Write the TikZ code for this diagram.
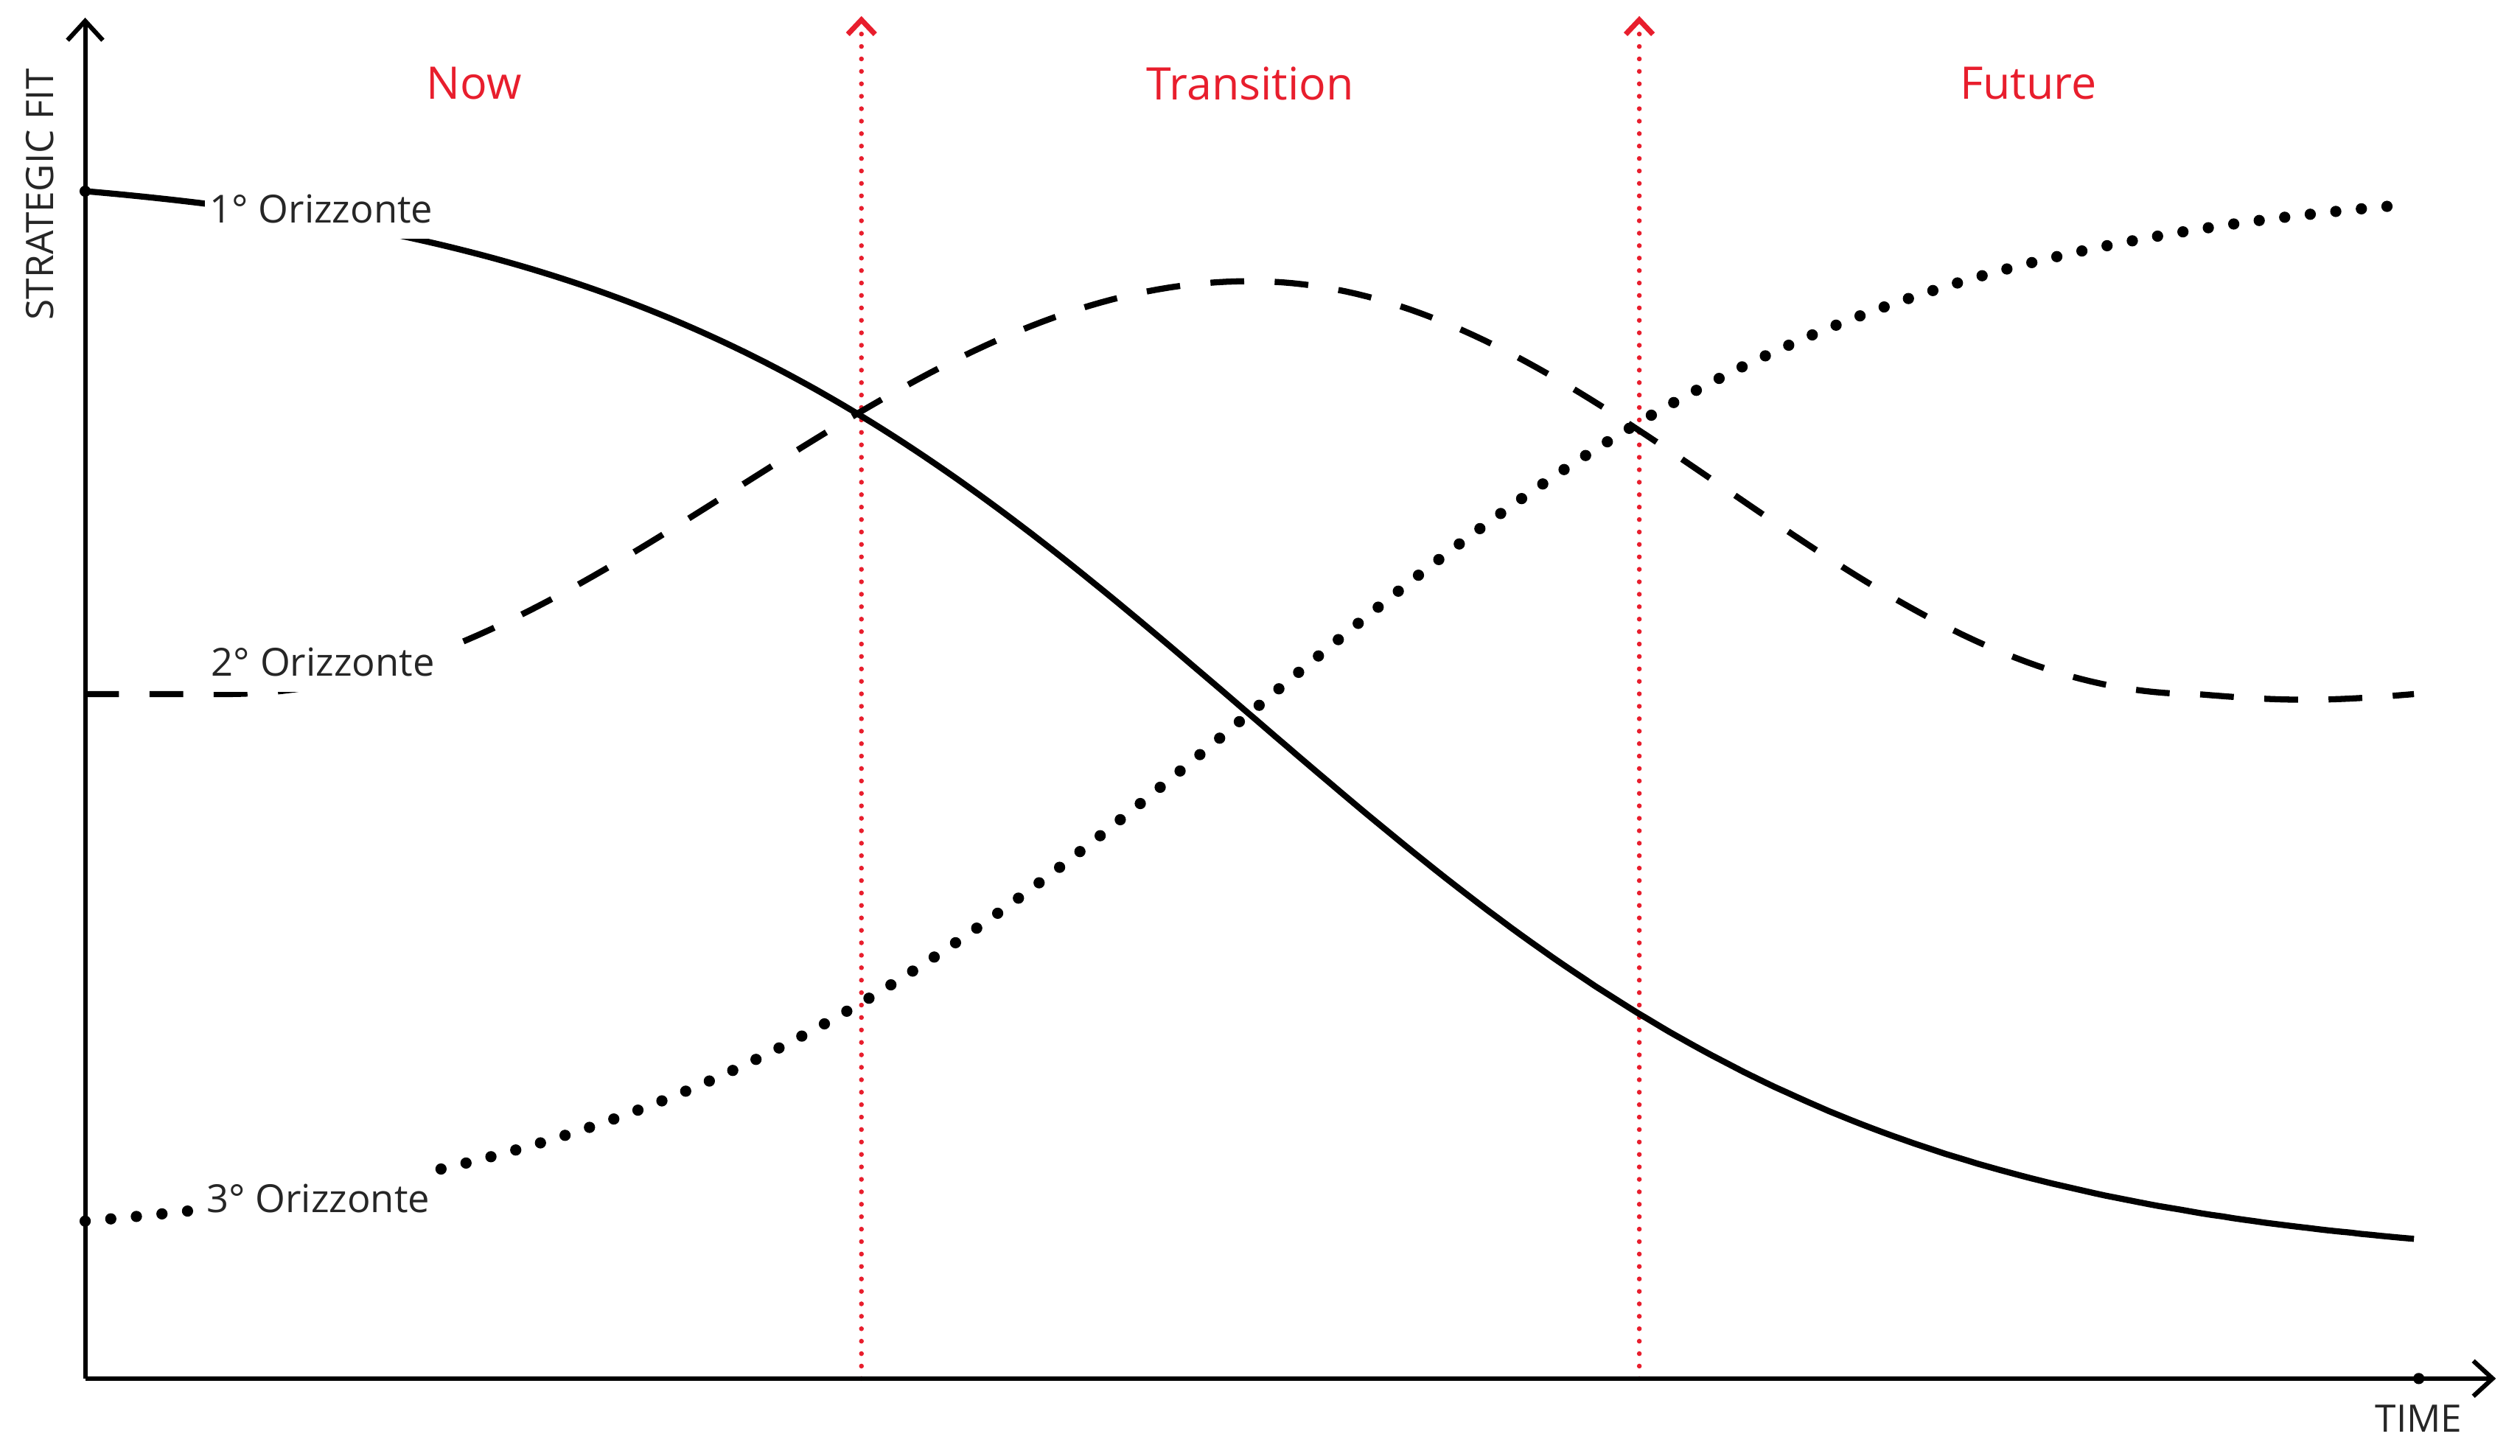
\documentclass[tikz,border=0pt]{standalone}
\usepackage{fontspec}
\setmainfont{Open Sans}
\usetikzlibrary{arrows.meta}
\definecolor{guidered}{RGB}{232,30,45}
\definecolor{inkgray}{RGB}{38,38,38}
\begin{document}
\begin{tikzpicture}[x=0.02cm,y=-0.02cm,
  axisline/.style={line width=0.056cm,draw=black,
    -{Straight Barb[length=0.24cm,width=0.44cm,line width=0.056cm]}},
  solidcurve/.style={line width=0.076cm,draw=black},
  dashcurve/.style={line width=0.076cm,draw=black,dash pattern=on 0.42cm off 0.38cm},
  dotcurve/.style={line width=0.14cm,draw=black,line cap=round,dash pattern=on 0pt off 0.32cm},
  guide/.style={draw=guidered,line width=0.06cm,line cap=round,dash pattern=on 0pt off 0.155cm,
    -{Straight Barb[length=0.18cm,width=0.34cm,line width=0.065cm]}},
  lbl/.style={font=\fontsize{13.7}{16}\selectfont,text=inkgray,fill=white,inner xsep=0.06cm,inner ysep=0.19cm},
  phase/.style={font=\fontsize{15.9}{19}\selectfont,text=guidered,inner sep=1pt},
  axislbl/.style={font=\fontsize{13.4}{16}\selectfont,text=inkgray,inner sep=1pt},
  axisdot/.style={fill=black,circle,inner sep=0pt,minimum size=0.14cm}
]
\useasboundingbox (0,0) rectangle (1568,906);

% coordinates
\coordinate (origin) at (53,858);
\coordinate (ytip) at (53,11);
\coordinate (xtip) at (1553,858);
\coordinate (g1b) at (536,858);
\coordinate (g1t) at (536,10);
\coordinate (g2b) at (1020,858);
\coordinate (g2t) at (1020,10);

% red guide lines
\draw[guide] (g1b) -- (g1t);
\draw[guide] (g2b) -- (g2t);

% curves
\draw[solidcurve] plot[domain=53:1502,samples=220]
  (\x,{119+652*(1/(1+exp(-0.005*(\x-778)))-0.0259)/0.948});
\draw[dashcurve] (53,432) -- (140,432)
  -- plot[domain=140:778,samples=90] (\x,{432-128.5*(1+cos(0.282132*(\x-778)))})
  -- plot[domain=778:1367,samples=90] (\x,{432-128.5*(1+cos(0.305603*(\x-778)))})
  -- plot[domain=1367:1502,samples=30] (\x,{432+3.5*sin(1.333333*(\x-1367))});
\draw[dotcurve] plot[domain=53:1495,samples=220]
  (\x,{760-633*(1/(1+exp(-0.005*(\x-778)))-0.0259)/0.948});

% axes
\draw[axisline] (origin) -- (ytip);
\draw[axisline] (origin) -- (xtip);
\node[axisdot] (ydot) at (53,119) {};
\node[axisdot] (xdot) at (1505,858) {};

% labels
\node[lbl] (h1) at (200,130) {1° Orizzonte};
\node[lbl] (h2) at (201,412) {2° Orizzonte};
\node[lbl] (h3) at (198,746) {3° Orizzonte};

\node[phase] (now) at (295,52) {Now};
\node[phase] (trans) at (778,52) {Transition};
\node[phase] (fut) at (1262,52) {Future};

\node[axislbl,rotate=90] (ylab) at (25,121) {STRATEGIC FIT};
\node[axislbl] (xlab) at (1505,883) {TIME};
\end{tikzpicture}
\end{document}
